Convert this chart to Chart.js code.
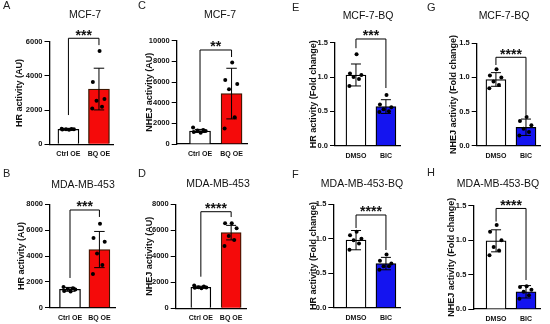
<!DOCTYPE html>
<html>
<head>
<meta charset="utf-8">
<script src="https://cdn.jsdelivr.net/npm/chart.js@4.4.1/dist/chart.umd.min.js"></script>
<style>
  html, body { margin: 0; padding: 0; background: #fff; }
  #fig { position: relative; width: 550px; height: 324px; overflow: hidden; }
  #fig canvas { position: absolute; left: 0; top: 0; }
</style>
</head>
<body>
<div id="fig"></div>
<script>
// groups
var oeGroups = ['Ctrl OE', 'BQ OE'];
var bicGroups = ['DMSO', 'BIC'];

// y tick values
var ticks6k = [0, 2000, 4000, 6000];
var ticks8k = [0, 2000, 4000, 6000, 8000];
var ticks10k = [0, 2000, 4000, 6000, 8000, 10000];
var ticksFold = [0, 0.5, 1.0, 1.5];

// A: MCF-7, HR
var aMean = [880, 3230], aSD = [50, 1220];
var aCtrl = [850, 870, 880, 880, 890, 910];
var aBQ = [5450, 3650, 2650, 2550, 2200, 2100];

// B: MDA-MB-453, HR
var bMean = [1420, 4500], bSD = [150, 1400];
var bCtrl = [1250, 1300, 1400, 1450, 1500, 1600];
var bBQ = [6500, 5400, 5100, 4200, 3300, 2600];

// C: MCF-7, NHEJ
var cMean = [1260, 4880], cSD = [150, 2450];
var cCtrl = [1100, 1150, 1250, 1300, 1350, 1600];
var cBQ = [7900, 6200, 5800, 5300, 2600, 1500];

// D: MDA-MB-453, NHEJ
var dMean = [1620, 5820], dSD = [80, 560];
var dCtrl = [1550, 1580, 1600, 1620, 1680, 1750];
var dBQ = [6540, 6540, 6150, 5560, 5260, 4790];

// E: MCF-7-BQ, HR fold change
var eMean = [1.03, 0.57], eSD = [0.16, 0.10];
var eDMSO = [1.33, 1.05, 1.03, 1.0, 0.97, 0.87];
var eBIC = [0.74, 0.6, 0.56, 0.53, 0.5, 0.49];

// F: MDA-MB-453-BQ, HR fold change
var fMean = [0.98, 0.64], fSD = [0.14, 0.09];
var fDMSO = [1.1, 1.05, 1.0, 0.98, 0.93, 0.84];
var fBIC = [0.77, 0.68, 0.64, 0.6, 0.6, 0.55];

// G: MCF-7-BQ, NHEJ fold change
var gMean = [0.97, 0.27], gSD = [0.1, 0.12];
var gDMSO = [1.12, 1.03, 1.0, 0.94, 0.89, 0.84];
var gBIC = [0.42, 0.36, 0.3, 0.25, 0.2, 0.15];

// H: MDA-MB-453-BQ, NHEJ fold change
var hMean = [0.99, 0.25], hSD = [0.16, 0.09];
var hDMSO = [1.22, 1.12, 1.0, 0.9, 0.85, 0.78];
var hBIC = [0.33, 0.32, 0.28, 0.25, 0.2, 0.15];

// significance brackets: [line, left leg end, right leg end]
var aSig = [6200, 1710, 5800], bSig = [7560, 2300, 7020];
var cSig = [9100, 2130, 8420], dSig = [7430, 2430, 7020];
var eSig = [1.554, 1.42, 0.84], fSig = [1.345, 1.156, 0.837];
var gSig = [1.295, 1.182, 0.45], hSig = [1.46, 1.27, 0.42];

var FONT = "'Liberation Sans', Arial, sans-serif";
var RED = '#f50a0a', BLUE = '#1414f0', WHITE = '#ffffff';
var YW = 40, XH = 14;
var JIT = [0.02, -0.2, 0.18, -0.08, 0.1, -0.22];

var panels = [
  { letter: 'A', title: 'MCF-7', yTitle: 'HR activity (AU)', groups: oeGroups, ticks: ticks6k,
    mean: aMean, sd: aSD, pts: [aCtrl, aBQ], sig: aSig, stars: '***', fill: [WHITE, RED], edge: ['#000', '#3d1600'],
    box: { l: 49.5, r: 113, t: 41.7, b: 144.3 }, xr: [-0.62, 1.46], titleX: 20, titleAt: [85, 15], letterAt: [3, 6], bw: 21 },
  { letter: 'B', title: 'MDA-MB-453', yTitle: 'HR activity (AU)', groups: oeGroups, ticks: ticks8k,
    mean: bMean, sd: bSD, pts: [bCtrl, bBQ], sig: bSig, stars: '***', fill: [WHITE, RED], edge: ['#000', '#3d1600'],
    box: { l: 50, r: 115, t: 204.3, b: 307.7 }, xr: [-0.68, 1.53], titleX: 22, titleAt: [83, 185], letterAt: [3, 174], bw: 21 },
  { letter: 'C', title: 'MCF-7', yTitle: 'NHEJ activity (AU)', groups: oeGroups, ticks: ticks10k,
    mean: cMean, sd: cSD, pts: [cCtrl, cBQ], sig: cSig, stars: '**', fill: [WHITE, RED], edge: ['#000', '#3d1600'],
    box: { l: 176.7, r: 247, t: 40.7, b: 144 }, xr: [-0.74, 1.49], titleX: 150, titleAt: [220, 15], letterAt: [138, 6], bw: 21 },
  { letter: 'D', title: 'MDA-MB-453', yTitle: 'NHEJ activity (AU)', groups: oeGroups, ticks: ticks8k,
    mean: dMean, sd: dSD, pts: [dCtrl, dBQ], sig: dSig, stars: '****', fill: [WHITE, RED], edge: ['#000', '#3d1600'],
    box: { l: 175.7, r: 246, t: 204.3, b: 308.3 }, xr: [-0.83, 1.49], titleX: 150, titleAt: [218, 184], letterAt: [138, 174], bw: 20 },
  { letter: 'E', title: 'MCF-7-BQ', yTitle: 'HR activity (Fold change)', groups: bicGroups, ticks: ticksFold,
    mean: eMean, sd: eSD, pts: [eDMSO, eBIC], sig: eSig, stars: '***', fill: [WHITE, BLUE], edge: ['#000', '#000'],
    box: { l: 335, r: 400, t: 42.7, b: 145.7 }, xr: [-0.7, 1.47], titleX: 314, titleAt: [368, 16], letterAt: [292, 8], bw: 20 },
  { letter: 'F', title: 'MDA-MB-453-BQ', yTitle: 'HR activity (Fold change)', groups: bicGroups, ticks: ticksFold,
    mean: fMean, sd: fSD, pts: [fDMSO, fBIC], sig: fSig, stars: '****', fill: [WHITE, BLUE], edge: ['#000', '#000'],
    box: { l: 333.3, r: 400, t: 204.3, b: 307.7 }, xr: [-0.76, 1.47], titleX: 314, titleAt: [362, 184], letterAt: [292, 175], bw: 20 },
  { letter: 'G', title: 'MCF-7-BQ', yTitle: 'NHEJ activity (Fold change)', groups: bicGroups, ticks: ticksFold,
    mean: gMean, sd: gSD, pts: [gDMSO, gBIC], sig: gSig, stars: '****', fill: [WHITE, BLUE], edge: ['#000', '#000'],
    box: { l: 476.7, r: 540.7, t: 43.3, b: 145.7 }, xr: [-0.64, 1.49], titleX: 454, titleAt: [504, 16], letterAt: [427, 8], bw: 20 },
  { letter: 'H', title: 'MDA-MB-453-BQ', yTitle: 'NHEJ activity (Fold change)', groups: bicGroups, ticks: ticksFold,
    mean: hMean, sd: hSD, pts: [hDMSO, hBIC], sig: hSig, stars: '****', fill: [WHITE, BLUE], edge: ['#000', '#000'],
    box: { l: 473.3, r: 540.7, t: 205.7, b: 309 }, xr: [-0.76, 1.49], titleX: 452, titleAt: [498, 184], letterAt: [427, 173], bw: 20 }
];

// error bars, bracket, titles
function extras(p) {
  return {
    id: 'extras',
    afterDatasetDraw: function (chart, args) {
      if (args.index !== 0) return;
      var ctx = chart.ctx, y = chart.scales.y;
      var w = p.bw / 4;
      ctx.save();
      ctx.strokeStyle = '#000';
      ctx.lineWidth = 1;
      args.meta.data.forEach(function (bar, i) {
        var t = y.getPixelForValue(p.mean[i] + p.sd[i]);
        var b = y.getPixelForValue(p.mean[i] - p.sd[i]);
        ctx.beginPath();
        ctx.moveTo(bar.x, t); ctx.lineTo(bar.x, b);
        ctx.moveTo(bar.x - w, t); ctx.lineTo(bar.x + w, t);
        ctx.moveTo(bar.x - w, b); ctx.lineTo(bar.x + w, b);
        ctx.stroke();
      });
      ctx.restore();
    },
    afterDraw: function (chart) {
      var ctx = chart.ctx, x = chart.scales.x, y = chart.scales.y;
      var x0 = x.getPixelForValue(0), x1 = x.getPixelForValue(1);
      var top = y.getPixelForValue(p.sig[0]);
      ctx.save();
      ctx.strokeStyle = '#000';
      ctx.lineWidth = 1;
      ctx.beginPath();
      ctx.moveTo(x0, y.getPixelForValue(p.sig[1]));
      ctx.lineTo(x0, top);
      ctx.lineTo(x1, top);
      ctx.lineTo(x1, y.getPixelForValue(p.sig[2]));
      ctx.stroke();

      ctx.fillStyle = '#111';
      ctx.textAlign = 'center';
      ctx.textBaseline = 'alphabetic';
      ctx.font = 'bold 14px ' + FONT;
      ctx.fillText(p.stars, (x0 + x1) / 2, top + 1.5);

      ctx.textBaseline = 'middle';
      ctx.font = '10.5px ' + FONT;
      ctx.fillText(p.title, p.titleAt[0], p.titleAt[1]);

      ctx.textAlign = 'left';
      ctx.font = '11px ' + FONT;
      ctx.fillStyle = '#222';
      ctx.fillText(p.letter, p.letterAt[0], p.letterAt[1]);
      ctx.restore();
    }
  };
}

var fig = document.getElementById('fig');

panels.forEach(function (p) {
  var cv = document.createElement('canvas');
  cv.width = 550;
  cv.height = 324;
  fig.appendChild(cv);

  var dots = [];
  p.pts.forEach(function (group, i) {
    group.forEach(function (v, j) {
      dots.push({ x: i + JIT[j], y: v });
    });
  });

  var fold = p.ticks[p.ticks.length - 1] < 10;

  new Chart(cv.getContext('2d'), {
    type: 'bar',
    data: {
      datasets: [
        {
          type: 'bar',
          data: p.mean.map(function (m, i) { return { x: i, y: m }; }),
          backgroundColor: p.fill,
          borderColor: p.edge,
          borderWidth: 1.3,
          borderSkipped: 'bottom',
          barThickness: p.bw,
          order: 2
        },
        {
          type: 'scatter',
          data: dots,
          pointRadius: 2,
          pointBackgroundColor: '#000',
          pointBorderWidth: 0,
          order: 1
        }
      ]
    },
    options: {
      responsive: false,
      animation: false,
      events: [],
      layout: {
        padding: { left: p.box.l - YW, right: 550 - p.box.r, top: p.box.t, bottom: 324 - p.box.b - XH }
      },
      plugins: { legend: { display: false }, tooltip: { enabled: false } },
      scales: {
        x: {
          type: 'linear',
          offset: false,
          min: p.xr[0],
          max: p.xr[1],
          afterBuildTicks: function (s) { s.ticks = [{ value: 0 }, { value: 1 }]; },
          afterFit: function (s) { s.height = XH; },
          grid: { display: false, drawTicks: false, offset: false },
          border: { color: '#000', width: 1.3 },
          ticks: {
            padding: 6,
            color: '#111',
            font: { family: FONT, size: 7, weight: 'bold' },
            callback: function (v) { return p.groups[v]; }
          }
        },
        y: {
          min: 0,
          max: p.ticks[p.ticks.length - 1],
          afterBuildTicks: function (s) { s.ticks = p.ticks.map(function (v) { return { value: v }; }); },
          afterFit: function (s) { s.width = YW; },
          grid: { drawOnChartArea: false, color: '#000', tickLength: 5, lineWidth: 1 },
          border: { color: '#000', width: 1.3 },
          ticks: {
            padding: 2,
            color: '#111',
            font: { family: FONT, size: 7.5, weight: 'bold' },
            callback: function (v) { return fold ? v.toFixed(1) : String(v); }
          },
          title: {
            display: true,
            text: p.yTitle,
            color: '#111',
            font: { family: FONT, size: 9, weight: 'bold' },
            padding: { top: p.titleX - (p.box.l - YW) - 5.4, bottom: 0 }
          }
        }
      }
    },
    plugins: [extras(p)]
  });
});
</script>
</body>
</html>
